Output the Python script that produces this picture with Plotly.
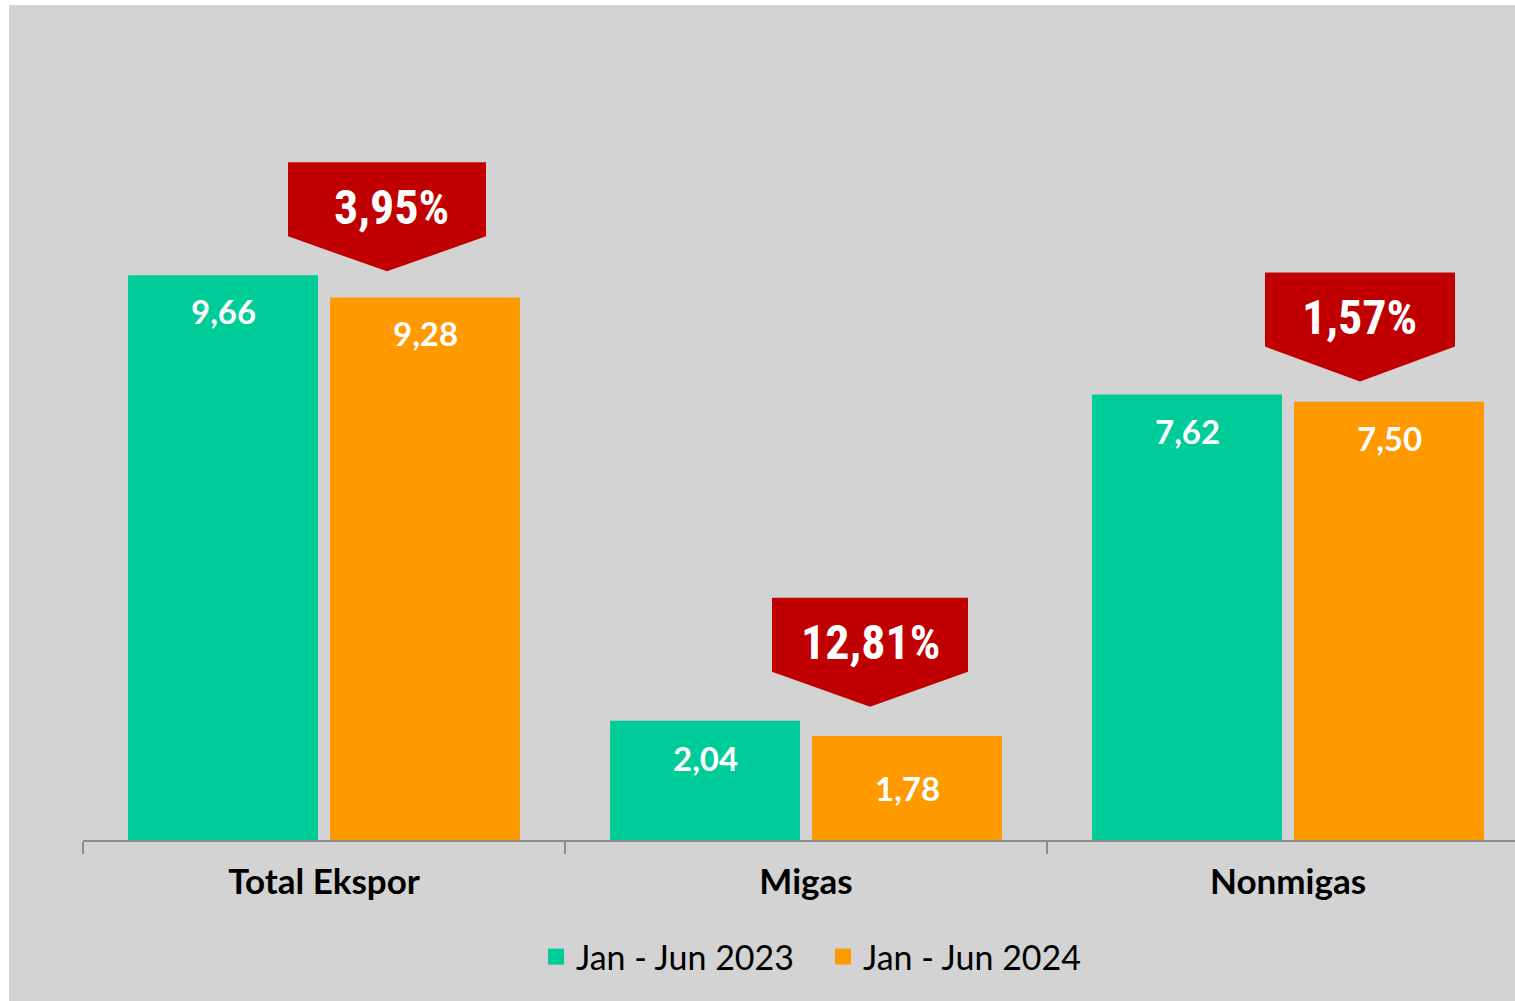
import plotly.graph_objects as go

categories = ["Total Ekspor", "Migas", "Nonmigas"]
series_names = ["Jan - Jun 2023", "Jan - Jun 2024"]
values_2023 = [9.66, 2.04, 7.62]
values_2024 = [9.28, 1.78, 7.50]
labels_2023 = ["9,66", "2,04", "7,62"]
labels_2024 = ["9,28", "1,78", "7,50"]
change_labels = ["3,95%", "12,81%", "1,57%"]

# styling / placement (pixels)
GREEN = "#00CC99"
ORANGE = "#FF9900"
RED = "#C00000"
BG = "#D3D3D3"
AXIS = "#8C8C8C"
label_dy_2023 = [-36, -37, -36]
label_dy_2024 = [-35, -52, -36]
arrow_dx = [63, 64, 72]
arrow_gap = [4, 14, 13]
arrow_w = [198, 196, 190]
arrow_text_dx = [4, 0, -1]
ARROW_RECT, ARROW_TIP = 74, 35

W, H = 1515, 1001
ML, MT, MB = 83, 5, 161
plot_w = W - ML
plot_h = H - MT - MB
cat_px = 482
ppu = 58.45

fig = go.Figure()
fig.add_trace(go.Bar(x=categories, y=values_2023, name=series_names[0],
                     marker=dict(color=GREEN, line=dict(width=0)), showlegend=False))
fig.add_trace(go.Bar(x=categories, y=values_2024, name=series_names[1],
                     marker=dict(color=ORANGE, line=dict(width=0)), showlegend=False))
# legend proxies
for nm, col in zip(series_names, [GREEN, ORANGE]):
    fig.add_trace(go.Scatter(x=[None], y=[None], mode="markers", name=nm,
                             marker=dict(symbol="square", size=18, color=col)))

annotations = []
shapes = []
bar_off = 101
for i, c in enumerate(categories):
    annotations.append(dict(x=i, y=values_2023[i], xref="x", yref="y", text=labels_2023[i],
                            showarrow=False, xshift=-bar_off, yshift=label_dy_2023[i],
                            font=dict(family="Lato", size=33, color="white", weight="bold")))
    annotations.append(dict(x=i, y=values_2024[i], xref="x", yref="y", text=labels_2024[i],
                            showarrow=False, xshift=bar_off, yshift=label_dy_2024[i],
                            font=dict(family="Lato", size=33, color="white", weight="bold")))
    top = max(values_2023[i], values_2024[i])
    dx = arrow_dx[i]
    g = arrow_gap[i]
    left, right = dx - arrow_w[i] / 2, dx + arrow_w[i] / 2
    slant = g + ARROW_TIP
    rtop = slant + ARROW_RECT
    path = f"M{left},{rtop} L{right},{rtop} L{right},{slant} L{dx},{g} L{left},{slant} Z"
    shapes.append(dict(type="path", xref="x", yref="y", xsizemode="pixel", ysizemode="pixel",
                       xanchor=i, yanchor=top, path=path, fillcolor=RED, line=dict(width=0),
                       layer="above"))
    annotations.append(dict(x=i, y=top, xref="x", yref="y", text=change_labels[i], showarrow=False,
                            xshift=dx + arrow_text_dx[i], yshift=slant + ARROW_RECT / 2 - 8,
                            font=dict(family="Roboto Condensed, DejaVu Sans Condensed",
                                      size=48, color="white", weight="bold")))

# white outer border strips (image margin)
shapes.append(dict(type="rect", xref="paper", yref="paper", x0=(0 - ML) / plot_w, x1=(9 - ML) / plot_w,
                   y0=(MT + plot_h - H) / plot_h, y1=(MT + plot_h) / plot_h,
                   fillcolor="white", line=dict(width=0), layer="above"))
shapes.append(dict(type="rect", xref="paper", yref="paper", x0=(0 - ML) / plot_w, x1=1,
                   y0=1, y1=(MT + plot_h) / plot_h,
                   fillcolor="white", line=dict(width=0), layer="above"))

fig.update_layout(
    width=W, height=H,
    margin=dict(l=ML, r=0, t=MT, b=MB, pad=0),
    paper_bgcolor=BG, plot_bgcolor=BG,
    barmode="group", bargap=0.162, bargroupgap=0.0594,
    xaxis=dict(type="category", range=[-0.5, -0.5 + plot_w / cat_px],
               showgrid=False, zeroline=False, showline=True, linecolor=AXIS, linewidth=2,
               ticks="outside", tickson="boundaries", ticklen=12, tickwidth=2, tickcolor=AXIS,
               ticklabelstandoff=10,
               tickfont=dict(family="Lato", size=35, color="black", weight="bold"),
               fixedrange=True),
    yaxis=dict(range=[0, plot_h / ppu], visible=False, fixedrange=True),
    showlegend=True,
    legend=dict(orientation="h", x=(536 - ML) / plot_w, xanchor="left",
                y=(MT + plot_h - 957) / plot_h, yanchor="middle",
                entrywidth=242, entrywidthmode="pixels",
                font=dict(family="Lato", size=34, color="black"),
                bgcolor="rgba(0,0,0,0)", itemsizing="trace"),
    annotations=annotations, shapes=shapes,
)

fig.write_html("out.html", config={"displayModeBar": False},
               post_script="document.body.style.margin='0';")
